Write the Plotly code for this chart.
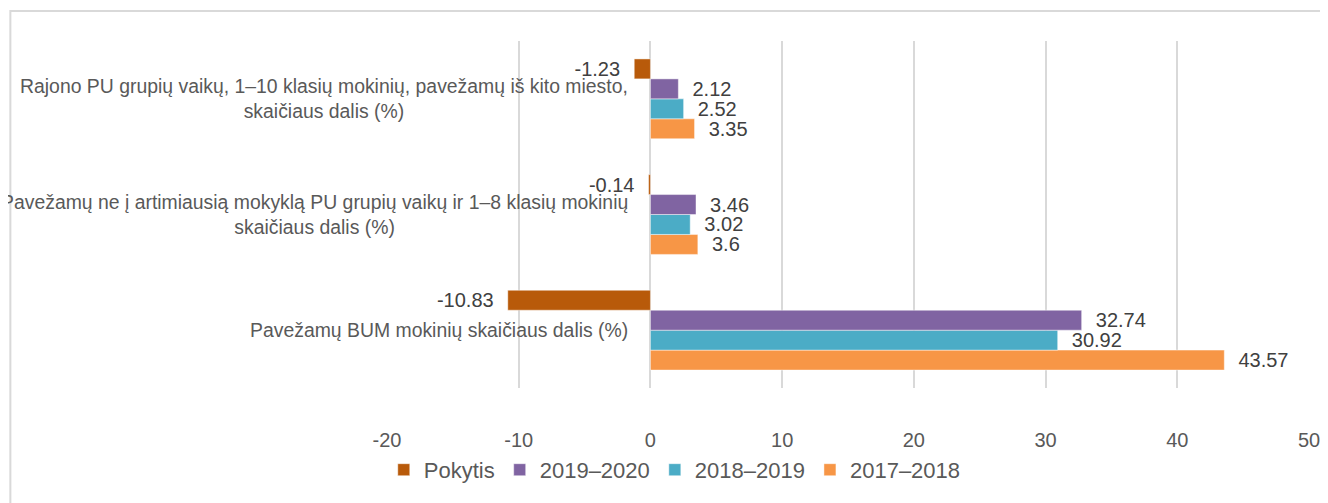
import plotly.graph_objects as go

# Categories (bottom to top as drawn)
categories = [
    "Pavežamų BUM mokinių skaičiaus dalis (%)",
    "Pavežamų ne į artimiausią mokyklą PU grupių vaikų ir 1–8 klasių mokinių<br>skaičiaus dalis (%)",
    "Rajono PU grupių vaikų, 1–10 klasių mokinių, pavežamų iš kito miesto,<br>skaičiaus dalis (%)",
]

pokytis = [-10.83, -0.14, -1.23]
y2019_2020 = [32.74, 3.46, 2.12]
y2018_2019 = [30.92, 3.02, 2.52]
y2017_2018 = [43.57, 3.6, 3.35]

x_ticks = [-20, -10, 0, 10, 20, 30, 40, 50]
x_tick_labels = ["-20", "-10", "0", "10", "20", "30", "40", "50"]

series = [
    ("2017–2018", y2017_2018, "#F79646"),
    ("2018–2019", y2018_2019, "#4BACC6"),
    ("2019–2020", y2019_2020, "#8064A2"),
    ("Pokytis", pokytis, "#B85A0A"),
]

FONT = "Liberation Sans, Arial, sans-serif"

fig = go.Figure()
for name, vals, color in series:
    labels = [(f"{v}\u00a0\u00a0" if v < 0 else f"\u00a0\u00a0{v}") for v in vals]
    fig.add_trace(go.Bar(
        name=name,
        y=categories,
        x=vals,
        orientation="h",
        marker=dict(color=color, line=dict(color="rgba(255,255,255,0.45)", width=1)),
        text=labels,
        texttemplate="%{text}",
        textposition="outside",
        textfont=dict(family=FONT, size=20, color="#404040"),
        constraintext="none",
        cliponaxis=False,
        hoverinfo="x+name",
    ))

# category labels next to the zero axis
for cat in categories:
    fig.add_annotation(
        x=0, y=cat, xref="x", yref="y",
        text=cat, showarrow=False,
        xanchor="right", yanchor="middle", align="center",
        xshift=-20,
        font=dict(family=FONT, size=19.4, color="#595959"),
    )

# outer chart border
fig.add_shape(type="rect", xref="paper", yref="paper",
              x0=-0.4085, x1=1.2, y0=-0.6, y1=1.0865,
              line=dict(color="#D9D9D9", width=2), fillcolor="rgba(0,0,0,0)", layer="below")

fig.update_layout(
    width=1320, height=495,
    margin=dict(l=379, r=19, t=33, b=115, autoexpand=False),
    paper_bgcolor="white", plot_bgcolor="white",
    barmode="group", bargap=0.31, bargroupgap=0,
    showlegend=True,
    legend=dict(
        orientation="h", traceorder="reversed",
        x=-0.0035, xanchor="left", y=-0.236, yanchor="middle",
        font=dict(family=FONT, size=22, color="#595959"),
        itemwidth=30,
    ),
    xaxis=dict(
        range=[-20, 50], tickvals=x_ticks, ticktext=x_tick_labels,
        showgrid=True, gridcolor="#D9D9D9", gridwidth=2,
        zeroline=True, zerolinecolor="#D9D9D9", zerolinewidth=2,
        showline=False, ticks="",
        tickfont=dict(family=FONT, size=20, color="#595959"),
        ticklabelstandoff=38,
        fixedrange=True,
    ),
    yaxis=dict(
        categoryorder="array", categoryarray=categories,
        showticklabels=False, showgrid=False, zeroline=False, showline=False,
        fixedrange=True,
    ),
)

fig.write_html("out.html")
